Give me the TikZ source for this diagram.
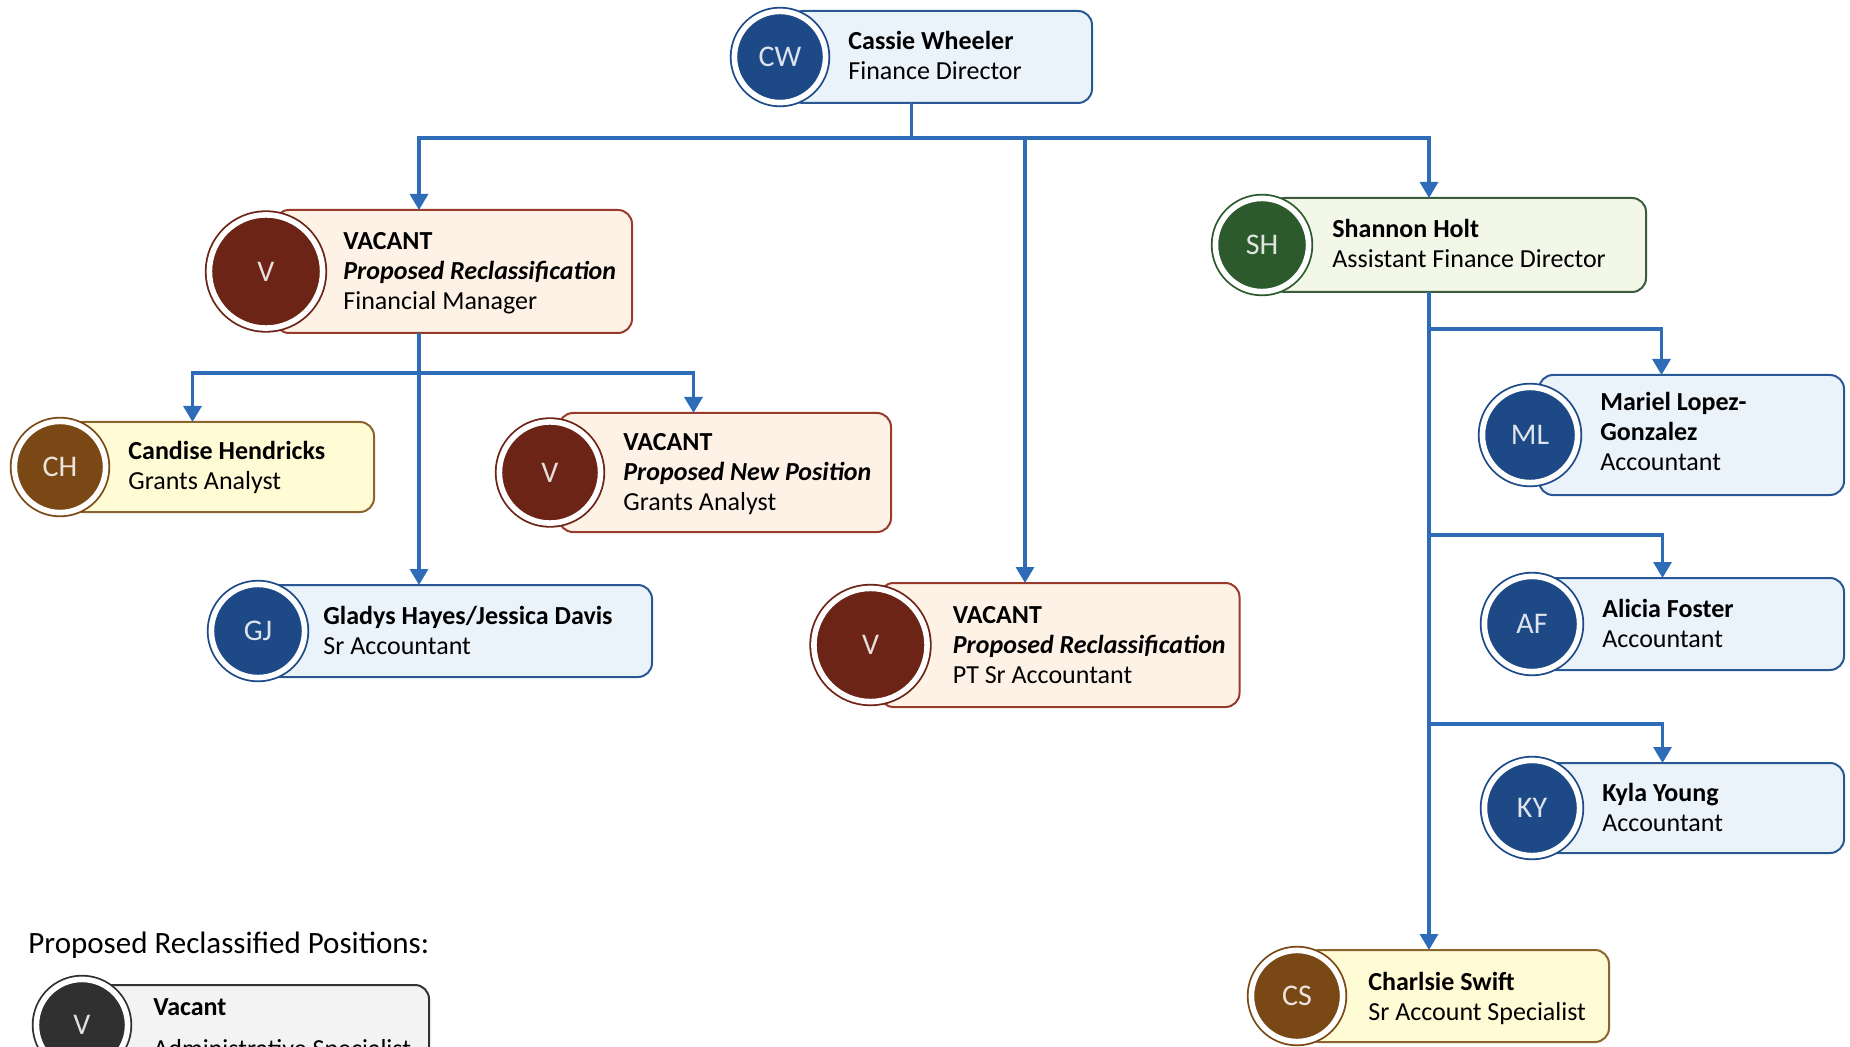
\documentclass[tikz,border=0pt]{standalone}
\usepackage{fontspec}
\setmainfont{Carlito}
\usetikzlibrary{arrows.meta}

\definecolor{linkblue}{HTML}{2E6CB8}
\definecolor{navydot}{HTML}{1D4A87}
\definecolor{navyline}{HTML}{2A5894}
\definecolor{navyfill}{HTML}{EAF2FA}
\definecolor{winedot}{HTML}{6C2416}
\definecolor{wineline}{HTML}{9A3A2C}
\definecolor{winefill}{HTML}{FDF2E5}
\definecolor{umberdot}{HTML}{7A4815}
\definecolor{umberline}{HTML}{8A6530}
\definecolor{umberfill}{HTML}{FFFBD5}
\definecolor{pinedot}{HTML}{2C5A2D}
\definecolor{pineline}{HTML}{3D5C3E}
\definecolor{pinefill}{HTML}{F2F7E8}
\definecolor{coaldot}{HTML}{303030}
\definecolor{coalline}{HTML}{333333}
\definecolor{coalfill}{HTML}{F3F3F3}

\tikzset{
  unit/.style={rectangle, draw=none, inner sep=0, outer sep=0},
  card/.style={rectangle, rounded corners=7pt, draw=#1line, fill=#1fill, line width=1pt, inner sep=0, anchor=east},
  avatar/.style={circle, fill=#1dot, draw=#1dot, line width=0.9pt, double=white, double distance=2.8pt, inner sep=0, text=white!85!#1dot, font=\fontsize{15}{18}\selectfont},
  txt/.style={align=left, anchor=base west, inner sep=0, font=\fontsize{13}{15}\selectfont},
  trunk/.style={draw=linkblue, line width=1.6pt},
  link/.style={trunk, -{Triangle[width=9pt,length=8pt]}},
}

\begin{document}
\begin{tikzpicture}[x=0.5pt, y=-0.5pt]
\fill[white] (0,0) rectangle (1850,1047);
\useasboundingbox (0,0) rectangle (1850,1047);

% Cassie Wheeler
\node[unit, minimum width=181.5pt, minimum height=46pt] (cw) at (911.5,57) {};
\node[card=navy, minimum width=151.5pt, minimum height=46pt] (cw-card) at (cw.east) {};
\node[avatar=navy, minimum size=45.6pt] (cw-dot) at ([xshift=25pt]cw.west) {CW};
\node[txt] (cw-txt) at ([xshift=34pt, yshift=-11.5pt]cw-dot.center) {\textbf{Cassie Wheeler}\\Finance Director};

% vacant financial manager
\node[unit, minimum width=214pt, minimum height=61.5pt] (fm) at (419,271.5) {};
\node[card=wine, minimum width=178.5pt, minimum height=61.5pt] (fm-card) at (fm.east) {};
\node[avatar=wine, minimum size=56.6pt] (fm-dot) at ([xshift=30.5pt]fm.west) {V};
\node[txt] (fm-txt) at ([xshift=38.5pt, yshift=-19pt]fm-dot.center) {\textbf{VACANT}\\\textbf{\itshape Proposed Reclassification}\\Financial Manager};

% Candise Hendricks
\node[unit, minimum width=182.5pt, minimum height=45pt] (ch) at (192.5,467) {};
\node[card=umber, minimum width=152.5pt, minimum height=45pt] (ch-card) at (ch.east) {};
\node[avatar=umber, minimum size=45.6pt] (ch-dot) at ([xshift=25pt]ch.west) {CH};
\node[txt] (ch-txt) at ([xshift=34pt, yshift=-11pt]ch-dot.center) {\textbf{Candise Hendricks}\\Grants Analyst};

% vacant new grants analyst
\node[unit, minimum width=198.5pt, minimum height=59.5pt] (vn) at (693.5,472.5) {};
\node[card=wine, minimum width=166pt, minimum height=59.5pt] (vn-card) at (vn.east) {};
\node[avatar=wine, minimum size=50.6pt] (vn-dot) at ([xshift=27.5pt]vn.west) {V};
\node[txt] (vn-txt) at ([xshift=36.5pt, yshift=-19pt]vn-dot.center) {\textbf{VACANT}\\\textbf{\itshape Proposed New Position}\\Grants Analyst};

% Gladys Hayes / Jessica Davis
\node[unit, minimum width=223pt, minimum height=46pt] (gj) at (430,631) {};
\node[card=navy, minimum width=192.5pt, minimum height=46pt] (gj-card) at (gj.east) {};
\node[avatar=navy, minimum size=46.6pt] (gj-dot) at ([xshift=25.5pt]gj.west) {GJ};
\node[txt] (gj-txt) at ([xshift=32.5pt, yshift=-11.5pt]gj-dot.center) {\textbf{Gladys Hayes/Jessica Davis}\\Sr Accountant};

% vacant PT sr accountant
\node[unit, minimum width=215.5pt, minimum height=62pt] (vp) at (1025,645) {};
\node[card=wine, minimum width=180pt, minimum height=62pt] (vp-card) at (vp.east) {};
\node[avatar=wine, minimum size=56.6pt] (vp-dot) at ([xshift=30.5pt]vp.west) {V};
\node[txt] (vp-txt) at ([xshift=41pt, yshift=-19pt]vp-dot.center) {\textbf{VACANT}\\\textbf{\itshape Proposed Reclassification}\\PT Sr Accountant};

% Shannon Holt
\node[unit, minimum width=218pt, minimum height=47pt] (sh) at (1429,245) {};
\node[card=pine, minimum width=187.5pt, minimum height=47pt] (sh-card) at (sh.east) {};
\node[avatar=pine, minimum size=46.6pt] (sh-dot) at ([xshift=25.5pt]sh.west) {SH};
\node[txt] (sh-txt) at ([xshift=35pt, yshift=-11.5pt]sh-dot.center) {\textbf{Shannon Holt}\\Assistant Finance Director};

% Mariel Lopez-Gonzalez
\node[unit, minimum width=183.5pt, minimum height=60pt] (ml) at (1661.5,435) {};
\node[card=navy, minimum width=152.5pt, minimum height=60pt] (ml-card) at (ml.east) {};
\node[avatar=navy, minimum size=47.6pt] (ml-dot) at ([xshift=26pt]ml.west) {ML};
\node[txt] (ml-txt) at ([xshift=35pt, yshift=-18pt]ml-dot.center) {\textbf{Mariel Lopez-}\\\textbf{Gonzalez}\\Accountant};

% Alicia Foster
\node[unit, minimum width=182.5pt, minimum height=46pt] (af) at (1662.5,624) {};
\node[card=navy, minimum width=151.5pt, minimum height=46pt] (af-card) at (af.east) {};
\node[avatar=navy, minimum size=47.6pt] (af-dot) at ([xshift=26pt]af.west) {AF};
\node[txt] (af-txt) at ([xshift=35pt, yshift=-11.5pt]af-dot.center) {\textbf{Alicia Foster}\\Accountant};

% Kyla Young
\node[unit, minimum width=182.5pt, minimum height=45pt] (ky) at (1662.5,808) {};
\node[card=navy, minimum width=151.5pt, minimum height=45pt] (ky-card) at (ky.east) {};
\node[avatar=navy, minimum size=47.6pt] (ky-dot) at ([xshift=26pt]ky.west) {KY};
\node[txt] (ky-txt) at ([xshift=35pt, yshift=-11.5pt]ky-dot.center) {\textbf{Kyla Young}\\Accountant};

% Charlsie Swift
\node[unit, minimum width=181.5pt, minimum height=46pt] (cs) at (1428.5,996) {};
\node[card=umber, minimum width=151.5pt, minimum height=46pt] (cs-card) at (cs.east) {};
\node[avatar=umber, minimum size=45.6pt] (cs-dot) at ([xshift=25pt]cs.west) {CS};
\node[txt] (cs-txt) at ([xshift=35.5pt, yshift=-12pt]cs-dot.center) {\textbf{Charlsie Swift}\\Sr Account Specialist};

% legend
\node[anchor=base west, inner sep=0, font=\fontsize{15.5}{18}\selectfont] (legend) at (28,953) {Proposed Reclassified Positions:};
\node[unit, minimum width=199pt, minimum height=46pt] (as) at (231,1031) {};
\node[card=coal, minimum width=169pt, minimum height=46pt] (as-card) at (as.east) {};
\node[avatar=coal, minimum size=45.6pt] (as-dot) at ([xshift=25pt, yshift=3pt]as.west) {V};
\node[txt] (as-txt) at ([xshift=35.5pt, yshift=-16pt]as-dot.center) {\textbf{Vacant}\\[6pt]Administrative Specialist};

% connectors
\draw[trunk] (cw.south) -- (cw.south |- 0,138) coordinate (bus);
\draw[link] (bus) -| (fm.north);
\draw[link] (bus) -| (sh.north);
\draw[link] (vp.north |- bus) -- (vp.north);
\draw[trunk] (fm.south) -- (fm.south |- 0,373) coordinate (fmbus);
\draw[link] (fmbus) -| (ch.north);
\draw[link] (fmbus) -| (vn.north);
\draw[link] (fmbus) -- (fmbus |- gj.north);
\draw[link] (sh.south) -- (sh.south |- cs.north);
\draw[link] (sh.south |- 0,329) -| (ml.north);
\draw[link] (sh.south |- 0,535) -| (af.north);
\draw[link] (sh.south |- 0,724) -| (ky.north);
\end{tikzpicture}
\end{document}
